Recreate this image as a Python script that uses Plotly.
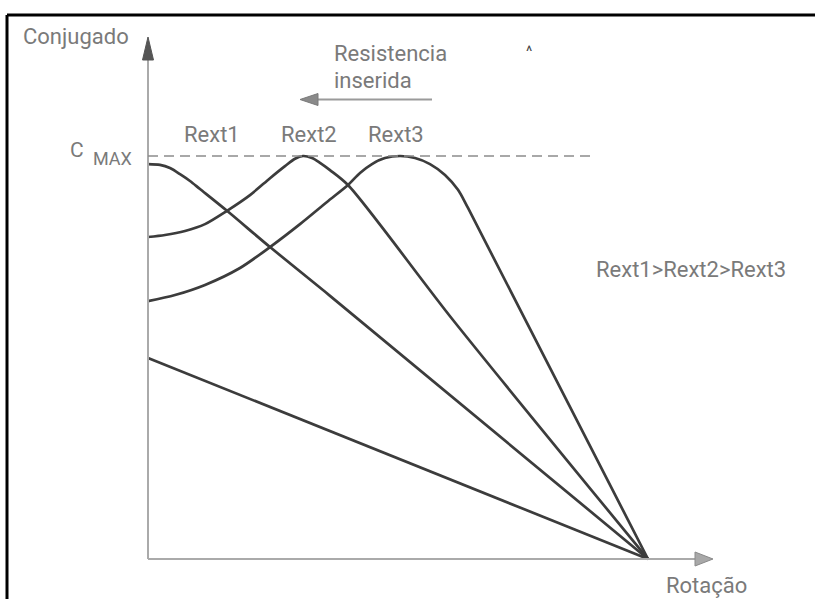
import plotly.graph_objects as go

# ---- data (rotation n: 0 at origin, 1 at synchronous speed; torque T: 1 = C_MAX) ----
curve_names = ["Rext1", "Rext2", "Rext3"]

rext1_n = [0.0, 0.024, 0.044, 0.064, 0.084, 0.104, 0.158, 0.244, 0.364, 1.0]
rext1_t = [0.980, 0.978, 0.970, 0.955, 0.938, 0.918, 0.864, 0.774, 0.653, 0.0]

rext2_n = [0.0, 0.034, 0.074, 0.114, 0.158, 0.204, 0.244, 0.274, 0.294, 0.31, 0.328, 0.344, 0.364, 0.40, 0.61, 1.0]
rext2_t = [0.799, 0.804, 0.814, 0.831, 0.864, 0.903, 0.945, 0.975, 0.993, 1.0, 0.995, 0.983, 0.965, 0.928, 0.593, 0.0]

rext3_n = [0.0, 0.054, 0.114, 0.184, 0.244, 0.304, 0.358, 0.40, 0.424, 0.448, 0.474, 0.504, 0.534, 0.564, 0.594, 0.62, 0.64, 1.0]
rext3_t = [0.640, 0.655, 0.680, 0.722, 0.774, 0.831, 0.886, 0.928, 0.958, 0.980, 0.995, 1.0, 0.995, 0.980, 0.953, 0.916, 0.871, 0.0]

rmax_n = [0.0, 1.0]
rmax_t = [0.499, 0.0]

cmax = 1.0
order_text = "Rext1>Rext2>Rext3"

# ---- pixel <-> data mapping for layout placement ----
W, H = 815, 599
X0, XS, Y0, YS = 148.0, 500.0, 559.0, 403.0
def dx(px):
    return (px - X0) / XS
def dy(py):
    return (Y0 - py) / YS

LINE = "#3c3c3c"
TXT = "#7a7a7a"
FONT = "Roboto"

fig = go.Figure()
for xs, ys in [(rext1_n, rext1_t), (rext2_n, rext2_t), (rext3_n, rext3_t), (rmax_n, rmax_t)]:
    fig.add_trace(go.Scatter(x=xs, y=ys, mode="lines",
                             line=dict(color=LINE, width=2.7, shape="spline", smoothing=0.8),
                             hoverinfo="skip", showlegend=False))

shapes = []
# axes
shapes.append(dict(type="line", xref="x", yref="y", x0=0, y0=0, x1=0, y1=dy(58),
                   line=dict(color="#aaaaaa", width=2)))
shapes.append(dict(type="line", xref="x", yref="y", x0=0, y0=0, x1=dx(697), y1=0,
                   line=dict(color="#aaaaaa", width=2)))
# y-axis arrowhead
shapes.append(dict(type="path", xref="x", yref="y",
                   path=f"M {dx(148)} {dy(37)} L {dx(142.5)} {dy(60)} L {dx(153.5)} {dy(60)} Z",
                   fillcolor="#555555", line=dict(color="#555555", width=1)))
# x-axis arrowhead
shapes.append(dict(type="path", xref="x", yref="y",
                   path=f"M {dx(713)} {dy(559)} L {dx(695)} {dy(552)} L {dx(695)} {dy(566)} Z",
                   fillcolor="#a8a8a8", line=dict(color="#8a8a8a", width=1)))
# C_MAX dashed line
shapes.append(dict(type="line", xref="x", yref="y", x0=0, y0=cmax, x1=dx(590), y1=cmax,
                   line=dict(color="#8c8c8c", width=1.6, dash="10px,6px")))
# "resistencia inserida" arrow
shapes.append(dict(type="line", xref="x", yref="y", x0=dx(432), y0=dy(99.5), x1=dx(316), y1=dy(99.5),
                   line=dict(color="#9a9a9a", width=2)))
shapes.append(dict(type="path", xref="x", yref="y",
                   path=f"M {dx(300)} {dy(99.5)} L {dx(318)} {dy(93.5)} L {dx(318)} {dy(105.5)} Z",
                   fillcolor="#8a8a8a", line=dict(color="#7a7a7a", width=1)))
# frame (top and left borders)
shapes.append(dict(type="line", xref="paper", yref="paper", x0=7 / W, y0=1 - 15 / H, x1=1.0, y1=1 - 15 / H,
                   line=dict(color="black", width=3)))
shapes.append(dict(type="line", xref="paper", yref="paper", x0=7 / W, y0=1 - 15 / H, x1=7 / W, y1=0.0,
                   line=dict(color="black", width=3)))

ann = []
def label(text, px, py, size=22, xanchor="center", color=TXT):
    ann.append(dict(text=text, x=dx(px), y=dy(py), xref="x", yref="y", showarrow=False,
                    xanchor=xanchor, yanchor="middle",
                    font=dict(family=FONT, size=size, color=color)))

label("Conjugado", 75.5, 36)
label("C", 77, 150, size=21)
label("MAX", 112, 158, size=18)
label(curve_names[0], 212, 134)
label(curve_names[1], 309, 134)
label(curve_names[2], 396, 134)
label("Resistencia", 332, 53, xanchor="left")
label("inserida", 332, 80, xanchor="left")
label("^", 529, 51, size=15, color="#444444")
label(order_text, 690.5, 269)
label("Rotação", 706, 585)

fig.update_layout(
    width=W, height=H, autosize=False,
    margin=dict(l=0, r=0, t=0, b=0),
    paper_bgcolor="white", plot_bgcolor="white",
    xaxis=dict(range=[dx(0), dx(W)], visible=False, fixedrange=True),
    yaxis=dict(range=[dy(H), dy(0)], visible=False, fixedrange=True),
    shapes=shapes, annotations=ann,
)
fig.write_html("out.html", config={"displayModeBar": False},
               post_script="document.body.style.margin='0';document.body.style.overflow='hidden';")
